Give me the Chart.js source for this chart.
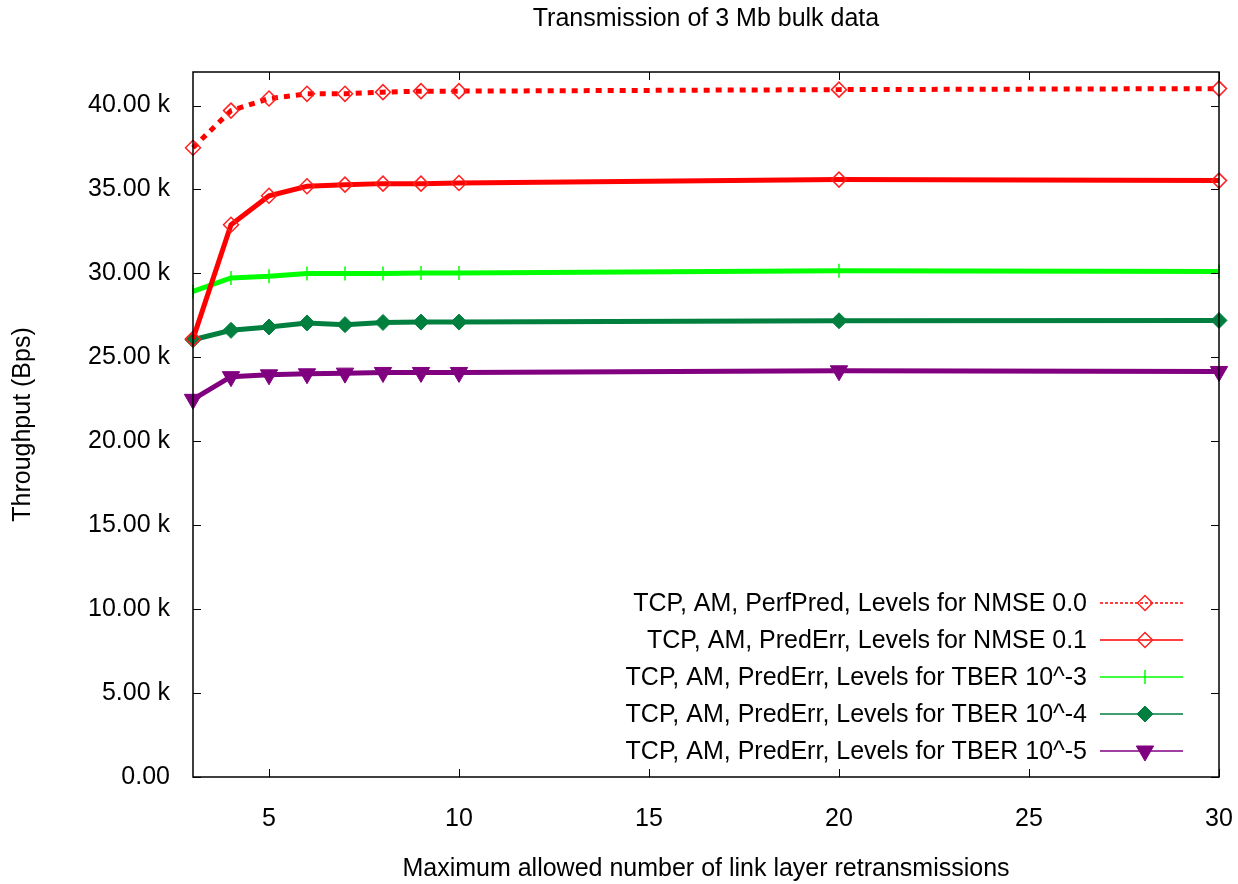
<!DOCTYPE html>
<html>
<head>
<meta charset="utf-8">
<script src="https://cdn.jsdelivr.net/npm/chart.js@4.4.0/dist/chart.umd.min.js"></script>
<style>
html,body{margin:0;padding:0;background:#fff;}
#wrap{width:1238px;height:884px;}
</style>
</head>
<body>
<div id="wrap"><canvas id="c" width="1238" height="884"></canvas></div>
<script>
const retransmissions = [3, 4, 5, 6, 7, 8, 9, 10, 20, 30];
const perfPredNmse00 = [37490, 39700, 40420, 40700, 40700, 40800, 40860, 40860, 40950, 41010];
const predErrNmse01 = [26100, 32900, 34630, 35190, 35290, 35350, 35350, 35390, 35590, 35530];
const predErrTber3 = [28930, 29730, 29830, 29990, 29990, 29990, 30030, 30030, 30160, 30120];
const predErrTber4 = [26050, 26610, 26810, 27050, 26950, 27080, 27100, 27100, 27180, 27200];
const predErrTber5 = [22500, 23850, 23960, 24020, 24060, 24100, 24100, 24100, 24200, 24160];
const seriesLabels = [
  'TCP, AM, PerfPred, Levels for NMSE 0.0',
  'TCP, AM, PredErr, Levels for NMSE 0.1',
  'TCP, AM, PredErr, Levels for TBER 10^-3',
  'TCP, AM, PredErr, Levels for TBER 10^-4',
  'TCP, AM, PredErr, Levels for TBER 10^-5'
];
const xTickValues = [5, 10, 15, 20, 25, 30];
const yTickValues = [0, 5000, 10000, 15000, 20000, 25000, 30000, 35000, 40000];
const chartTitle = 'Transmission of 3 Mb bulk data';
const xTitle = 'Maximum allowed number of link layer retransmissions';
const yTitle = 'Throughput (Bps)';

const FONT = "'Liberation Sans', Arial, Helvetica, sans-serif";
const FS = 25;
const pts = arr => arr.map((v, i) => ({x: retransmissions[i], y: v}));

const datasets = [
  {label: seriesLabels[0], data: pts(perfPredNmse00), borderColor: '#ff0000', backgroundColor: 'rgba(0,0,0,0)',
   borderWidth: 5, borderDash: [6, 6], borderCapStyle: 'butt', pointStyle: 'rectRot', pointRadius: 7.5,
   pointBorderColor: '#ff2020', pointBackgroundColor: 'rgba(255,255,255,0)', pointBorderWidth: 1.5,
   legendDash: [3, 2]},
  {label: seriesLabels[1], data: pts(predErrNmse01), borderColor: '#ff0000', backgroundColor: 'rgba(0,0,0,0)',
   borderWidth: 5, pointStyle: 'rectRot', pointRadius: 7.5,
   pointBorderColor: '#ff2020', pointBackgroundColor: 'rgba(255,255,255,0)', pointBorderWidth: 1.5},
  {label: seriesLabels[2], data: pts(predErrTber3), borderColor: '#00ff00', backgroundColor: 'rgba(0,0,0,0)',
   borderWidth: 5, pointStyle: 'line', pointRotation: 90, pointRadius: 7,
   pointBorderColor: '#00ff00', pointBackgroundColor: '#00ff00', pointBorderWidth: 1.5},
  {label: seriesLabels[3], data: pts(predErrTber4), borderColor: '#007f3f', backgroundColor: 'rgba(0,0,0,0)',
   borderWidth: 5, pointStyle: 'rectRot', pointRadius: 8,
   pointBorderColor: '#007f3f', pointBackgroundColor: '#007f3f', pointBorderWidth: 1},
  {label: seriesLabels[4], data: pts(predErrTber5), borderColor: '#800080', backgroundColor: 'rgba(0,0,0,0)',
   borderWidth: 5, pointStyle: 'triangle', pointRotation: 180, pointRadius: 10,
   pointBorderColor: '#800080', pointBackgroundColor: '#800080', pointBorderWidth: 1}
];
datasets.forEach(d => { d.tension = 0; d.clip = false; d.fill = false; d.borderJoinStyle = 'miter'; });

const framePlugin = {
  id: 'frame',
  afterDatasetsDraw(chart) {
    const {ctx, chartArea: a, scales} = chart;
    ctx.save();
    // title centred over plot area
    ctx.fillStyle = '#000';
    ctx.font = FS + 'px ' + FONT;
    ctx.textAlign = 'center';
    ctx.textBaseline = 'middle';
    ctx.fillText(chartTitle, (a.left + a.right) / 2, 19);

    ctx.strokeStyle = '#000';
    ctx.lineWidth = 1.5;
    ctx.strokeRect(a.left, a.top, a.right - a.left, a.bottom - a.top);
    ctx.lineWidth = 1;
    const tl = 8;
    ctx.beginPath();
    xTickValues.forEach(v => {
      const x = Math.round(scales.x.getPixelForValue(v)) + 0.5;
      ctx.moveTo(x, a.bottom); ctx.lineTo(x, a.bottom - tl);
      ctx.moveTo(x, a.top); ctx.lineTo(x, a.top + tl);
    });
    yTickValues.forEach(v => {
      const y = Math.round(scales.y.getPixelForValue(v)) + 0.5;
      ctx.moveTo(a.left, y); ctx.lineTo(a.left + tl, y);
      ctx.moveTo(a.right, y); ctx.lineTo(a.right - tl, y);
    });
    ctx.stroke();

    // legend
    ctx.font = FS + 'px ' + FONT;
    ctx.textAlign = 'right';
    ctx.textBaseline = 'middle';
    chart.data.datasets.forEach((d, i) => {
      const y = 603 + i * 37;
      ctx.fillStyle = '#000';
      ctx.fillText(d.label, 1087, y + 1);
      ctx.save();
      ctx.strokeStyle = d.borderColor;
      ctx.lineWidth = 1.5;
      ctx.setLineDash(d.legendDash || []);
      ctx.beginPath();
      ctx.moveTo(1100, y); ctx.lineTo(1183, y);
      ctx.stroke();
      ctx.restore();
      ctx.save();
      ctx.strokeStyle = d.pointBorderColor;
      ctx.fillStyle = d.pointBackgroundColor;
      ctx.lineWidth = d.pointBorderWidth;
      Chart.helpers.drawPoint(ctx, {pointStyle: d.pointStyle, rotation: d.pointRotation || 0,
        radius: d.pointRadius, borderWidth: d.pointBorderWidth}, 1145, y);
      ctx.restore();
    });
    ctx.restore();
  }
};

new Chart(document.getElementById('c'), {
  type: 'line',
  data: {datasets},
  options: {
    responsive: false,
    devicePixelRatio: 1,
    animation: false,
    layout: {padding: {left: 0, right: 19, top: 72, bottom: 0}},
    plugins: {
      legend: {display: false},
      tooltip: {enabled: false},
      title: {display: false}
    },
    scales: {
      x: {
        type: 'linear', min: 3, max: 30,
        afterBuildTicks: s => { s.ticks = xTickValues.map(v => ({value: v})); },
        afterFit: s => { s.height = 107; s.paddingLeft = 0; s.paddingRight = 0; },
        grid: {display: false, drawTicks: false},
        border: {display: false},
        ticks: {color: '#000', font: {family: FONT, size: FS}, padding: 27, maxRotation: 0,
          callback: v => String(v)},
        title: {display: true, text: xTitle, color: '#000', font: {family: FONT, size: FS},
          padding: {top: 0, bottom: 0}}
      },
      y: {
        type: 'linear', min: 0, max: 42000,
        afterBuildTicks: s => { s.ticks = yTickValues.map(v => ({value: v})); },
        afterFit: s => { s.width = 193; s.paddingTop = 0; s.paddingBottom = 0; },
        grid: {display: false, drawTicks: false},
        border: {display: false},
        ticks: {color: '#000', font: {family: FONT, size: FS}, padding: 23,
          callback: v => v === 0 ? '0.00' : (v / 1000).toFixed(2) + ' k'},
        title: {display: true, text: yTitle, color: '#000', font: {family: FONT, size: FS},
          padding: {top: 8, bottom: 0}}
      }
    }
  },
  plugins: [framePlugin]
});
</script>
</body>
</html>
